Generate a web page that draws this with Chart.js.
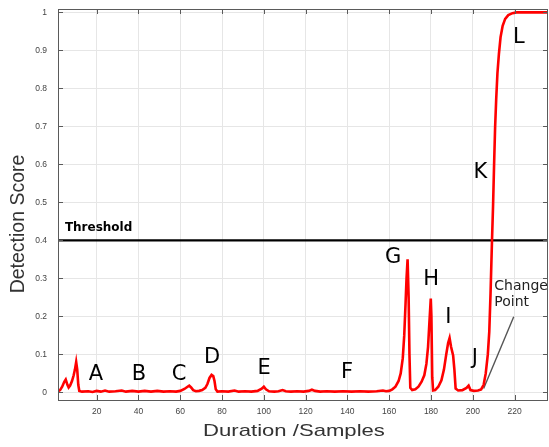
<!DOCTYPE html>
<html>
<head>
<meta charset="utf-8">
<script src="https://cdn.jsdelivr.net/npm/chart.js@4.4.1/dist/chart.umd.min.js"></script>
<style>
  html, body { margin: 0; padding: 0; background: #ffffff; }
  #wrap { width: 549px; height: 447px; }
</style>
</head>
<body>
<div id="wrap"><canvas id="chart" width="549" height="447"></canvas></div>
<script>
// Detection score over the sequence
const sampleX = [
    1.5, 2.5, 3.5, 4.5, 5.2, 6.0, 6.6, 7.3, 8.2, 9.0, 9.6, 10.2, 10.7, 11.2, 11.7,
    13, 16, 18, 20, 22, 24, 26, 29, 32, 34, 37, 40, 43, 46, 49, 52, 55, 58,
    60, 62, 63.5, 64.3, 65.2, 66.2, 67.5, 69, 70.5, 72, 73, 74, 75, 75.8, 76.4, 77, 77.8,
    80, 83, 86, 88, 91, 94, 97, 99, 100, 101, 102.5, 105, 107, 109, 110.5, 113, 116, 119,
    121.5, 123, 124.5, 127, 130, 134, 138, 142, 146, 150, 154, 157, 158.5,
    160, 161.5, 163, 164.5, 165.5, 166.5, 167.2, 167.8, 168.3, 168.8, 169.3, 169.7, 170.1,
    171, 172.5, 174, 175.5, 176.8, 177.8, 178.6, 179.2, 179.9, 180.2, 180.6, 181,
    182, 183.5, 185, 186.2, 187.3, 188.2, 188.9, 189.6, 190.6, 191.2, 191.8,
    193, 195, 197, 198, 198.9, 200.5, 202.5, 204, 205.2, 206.2, 207.2, 207.9, 208.5,
    209.2, 209.7, 210.2, 210.7, 211.2, 211.8, 212.5, 213.3, 214.3, 215.5, 217, 219, 221, 225, 236
];
const detectionScore = [
    0.003, 0.006, 0.015, 0.028, 0.034, 0.020, 0.013, 0.018, 0.030, 0.045, 0.060, 0.080, 0.060, 0.020, 0.004,
    0.002, 0.003, 0.001, 0.004, 0.002, 0.005, 0.002, 0.003, 0.005, 0.002, 0.004, 0.002, 0.004, 0.002, 0.004, 0.002, 0.003, 0.002,
    0.004, 0.009, 0.015, 0.018, 0.013, 0.006, 0.003, 0.004, 0.006, 0.012, 0.022, 0.038, 0.046, 0.043, 0.030, 0.008, 0.002,
    0.003, 0.002, 0.005, 0.002, 0.003, 0.002, 0.004, 0.010, 0.015, 0.008, 0.003, 0.002, 0.003, 0.006, 0.003, 0.002, 0.003, 0.002,
    0.004, 0.007, 0.004, 0.002, 0.003, 0.002, 0.003, 0.002, 0.003, 0.002, 0.003, 0.005, 0.003,
    0.004, 0.008, 0.015, 0.030, 0.050, 0.090, 0.150, 0.230, 0.300, 0.350, 0.250, 0.100, 0.012,
    0.006, 0.008, 0.015, 0.028, 0.045, 0.075, 0.120, 0.180, 0.247, 0.200, 0.040, 0.005,
    0.006, 0.015, 0.032, 0.060, 0.100, 0.130, 0.143, 0.120, 0.097, 0.060, 0.010,
    0.005, 0.006, 0.012, 0.018, 0.006, 0.004, 0.005, 0.008, 0.020, 0.050, 0.100, 0.160, 0.260,
    0.400, 0.490, 0.600, 0.700, 0.770, 0.840, 0.890, 0.935, 0.965, 0.983, 0.993, 0.998, 1.000, 1.000, 1.000
];

const thresholdValue = 0.4;
const xTickValues = [20, 40, 60, 80, 100, 120, 140, 160, 180, 200, 220];
const yTickValues = [0, 0.1, 0.2, 0.3, 0.4, 0.5, 0.6, 0.7, 0.8, 0.9, 1];

// Letter markers placed in data coordinates
const markerLabels = ['A', 'B', 'C', 'D', 'E', 'F', 'G', 'H', 'I', 'J', 'K', 'L'];
const markerX = [19.6, 40.3, 59.4, 75.2, 100.1, 139.8, 161.9, 180.1, 188.3, 201.0, 203.6, 222.1];
const markerY = [0.047, 0.046, 0.046, 0.093, 0.064, 0.051, 0.354, 0.298, 0.196, 0.090, 0.578, 0.935];

// Change point call-out: pointer line ends and text lines
const pointerX = [205.2, 219.6];
const pointerY = [0.0105, 0.199];
const changeText = ['Change', 'Point'];
const changeTextX = 210.3;
const changeTextY = [0.280, 0.238];

const xMin = 1.5, xMax = 236;
const yMin = -0.02, yMax = 1.009;

const frameAndLabels = {
    id: 'frameAndLabels',
    afterDatasetsDraw(chart) {
        const { ctx, chartArea: a, scales: { x, y } } = chart;
        ctx.save();

        // frame with inward ticks
        ctx.strokeStyle = '#5a5a5a';
        ctx.lineWidth = 1;
        ctx.strokeRect(a.left + 0.5, a.top + 0.5, a.right - a.left - 1, a.bottom - a.top);
        ctx.beginPath();
        xTickValues.forEach(v => {
            const px = Math.round(x.getPixelForValue(v)) + 0.5;
            ctx.moveTo(px, a.top); ctx.lineTo(px, a.top + 5);
            ctx.moveTo(px, a.bottom); ctx.lineTo(px, a.bottom - 5);
        });
        yTickValues.forEach(v => {
            const py = Math.round(y.getPixelForValue(v)) + 0.5;
            ctx.moveTo(a.left, py); ctx.lineTo(a.left + 5, py);
            ctx.moveTo(a.right, py); ctx.lineTo(a.right - 5, py);
        });
        ctx.stroke();

        // letters
        ctx.fillStyle = '#000';
        ctx.font = '21px "DejaVu Sans"';
        ctx.textAlign = 'center';
        ctx.textBaseline = 'middle';
        markerLabels.forEach((t, i) => {
            ctx.fillText(t, x.getPixelForValue(markerX[i]), y.getPixelForValue(markerY[i]));
        });

        // threshold label
        ctx.font = 'bold 12px "DejaVu Sans"';
        ctx.textAlign = 'left';
        ctx.fillText('Threshold', x.getPixelForValue(4.8), y.getPixelForValue(0.432));

        // change point text
        ctx.font = '14px "DejaVu Sans"';
        ctx.fillStyle = '#222';
        changeText.forEach((t, i) => {
            ctx.fillText(t, x.getPixelForValue(changeTextX), y.getPixelForValue(changeTextY[i]));
        });

        // axis titles
        ctx.fillStyle = '#333';
        ctx.textAlign = 'center';
        ctx.save();
        ctx.translate(294, 431);
        ctx.scale(1.3, 1);
        ctx.font = '17px "Liberation Sans"';
        ctx.fillText('Duration /Samples', 0, 0);
        ctx.restore();

        ctx.save();
        ctx.translate(19, 224);
        ctx.rotate(-Math.PI / 2);
        ctx.font = '19.5px "Liberation Sans"';
        ctx.fillText('Detection Score', 0, 0);
        ctx.restore();

        ctx.restore();
    }
};

const canvas = document.getElementById('chart');
new Chart(canvas.getContext('2d'), {
    type: 'line',
    data: {
        datasets: [
            {
                label: 'Detection Score',
                data: sampleX.map((v, i) => ({ x: v, y: detectionScore[i] })),
                borderColor: '#ff0000',
                borderWidth: 2.6,
                pointRadius: 0,
                tension: 0,
                fill: false
            },
            {
                label: 'Threshold',
                data: [{ x: xMin, y: thresholdValue }, { x: xMax, y: thresholdValue }],
                borderColor: '#000000',
                borderWidth: 2.4,
                pointRadius: 0,
                fill: false
            },
            {
                label: 'Change Point',
                data: pointerX.map((v, i) => ({ x: v, y: pointerY[i] })),
                borderColor: '#555555',
                borderWidth: 1.4,
                pointRadius: 0,
                fill: false
            }
        ]
    },
    options: {
        responsive: false,
        animation: false,
        layout: { autoPadding: false, padding: { top: 9, right: 1, left: 0, bottom: 0 } },
        plugins: {
            legend: { display: false },
            tooltip: { enabled: false }
        },
        scales: {
            x: {
                type: 'linear',
                min: xMin,
                max: xMax,
                afterBuildTicks: s => { s.ticks = xTickValues.map(v => ({ value: v })); },
                afterFit: s => { s.height = 47; s.paddingLeft = 0; s.paddingRight = 0; },
                border: { display: false },
                grid: { color: '#e6e6e6', drawTicks: false },
                ticks: {
                    padding: 7,
                    color: '#444',
                    font: { family: 'Liberation Sans', size: 8.5 },
                    maxRotation: 0,
                    callback: v => String(v)
                }
            },
            y: {
                min: yMin,
                max: yMax,
                afterBuildTicks: s => { s.ticks = yTickValues.map(v => ({ value: v })); },
                afterFit: s => { s.width = 58; s.paddingTop = 0; s.paddingBottom = 0; },
                border: { display: false },
                grid: { color: '#e6e6e6', drawTicks: false },
                ticks: {
                    padding: 11,
                    color: '#444',
                    font: { family: 'Liberation Sans', size: 8.5 },
                    callback: v => (v === 0 ? '0' : v === 1 ? '1' : v.toFixed(1))
                }
            }
        }
    },
    plugins: [frameAndLabels]
});
</script>
</body>
</html>
